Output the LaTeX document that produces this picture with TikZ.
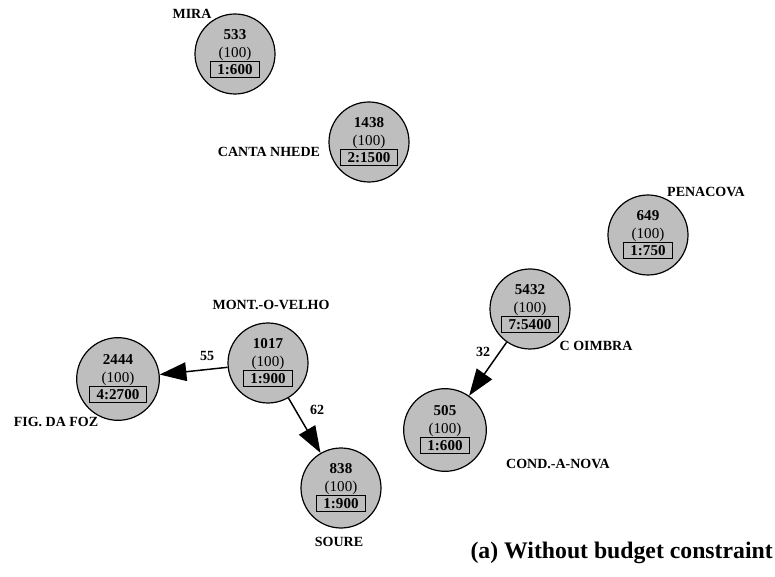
\documentclass[tikz,border=0pt]{standalone}
\usepackage{fontspec}
\setmainfont{Liberation Serif}
\usetikzlibrary{arrows.meta}
\definecolor{townGray}{HTML}{BEBEBE}
\setlength{\fboxsep}{1.8pt}
\setlength{\fboxrule}{0.8pt}
\newcommand{\quotaBox}[1]{\fbox{\hspace{3pt}\textbf{#1}\hspace{3pt}}}
\tikzset{
  town/.style={circle, draw=black, line width=0.9pt, fill=townGray, minimum size=60pt, inner sep=0pt, align=center, font=\fontsize{11.3}{13.2}\selectfont},
  townName/.style={font=\fontsize{10.5}{12}\selectfont\bfseries, inner sep=1pt},
  weight/.style={font=\fontsize{10.5}{12}\selectfont\bfseries, inner sep=1pt},
  link/.style={-{Triangle[length=20pt,width=14pt]}, draw=black, line width=1.1pt},
  caption/.style={font=\fontsize{17.8}{20}\selectfont\bfseries, inner sep=0pt}
}

\begin{document}
\begin{tikzpicture}[x=0.75pt,y=-0.75pt]
\useasboundingbox (0,0) rectangle (775,577);

% towns
\node[town] (mira) at (235,54) {\textbf{533}\\(100)\\\quotaBox{1:600}};
\node[town] (cant) at (369,142) {\textbf{1438}\\(100)\\\quotaBox{2:1500}};
\node[town] (pena) at (648,235) {\textbf{649}\\(100)\\\quotaBox{1:750}};
\node[town] (coim) at (530,309) {\textbf{5432}\\(100)\\\quotaBox{7:5400}};
\node[town] (mont) at (268,363) {\textbf{1017}\\(100)\\\quotaBox{1:900}};
\node[town, minimum size=62pt] (figf) at (118,379) {\textbf{2444}\\(100)\\\quotaBox{4:2700}};
\node[town] (sour) at (341,488) {\textbf{838}\\(100)\\\quotaBox{1:900}};
\node[town, minimum size=62pt] (cond) at (445,430) {\textbf{505}\\(100)\\\quotaBox{1:600}};

% names
\node[townName] (miraName) at (192,14) {MIRA};
\node[townName] (cantName) at (269,152) {CANTA NHEDE};
\node[townName] (penaName) at (706,192) {PENACOVA};
\node[townName] (coimName) at (596,346) {C OIMBRA};
\node[townName] (montName) at (271,305) {MONT.-O-VELHO};
\node[townName] (figfName) at (56,422) {FIG. DA FOZ};
\node[townName] (sourName) at (339,542) {SOURE};
\node[townName] (condName) at (558,464) {COND.-A-NOVA};

% flows
\draw[link] (mont) -- (figf);
\node[weight] (w55) at (207,356) {55};
\draw[link] (mont) -- (sour);
\node[weight] (w62) at (317,410) {62};
\draw[link] (coim) -- (cond);
\node[weight] (w32) at (483,352) {32};

\node[caption, anchor=east] (cap) at (773,553) {(a) Without budget constraint};

\end{tikzpicture}
\end{document}
